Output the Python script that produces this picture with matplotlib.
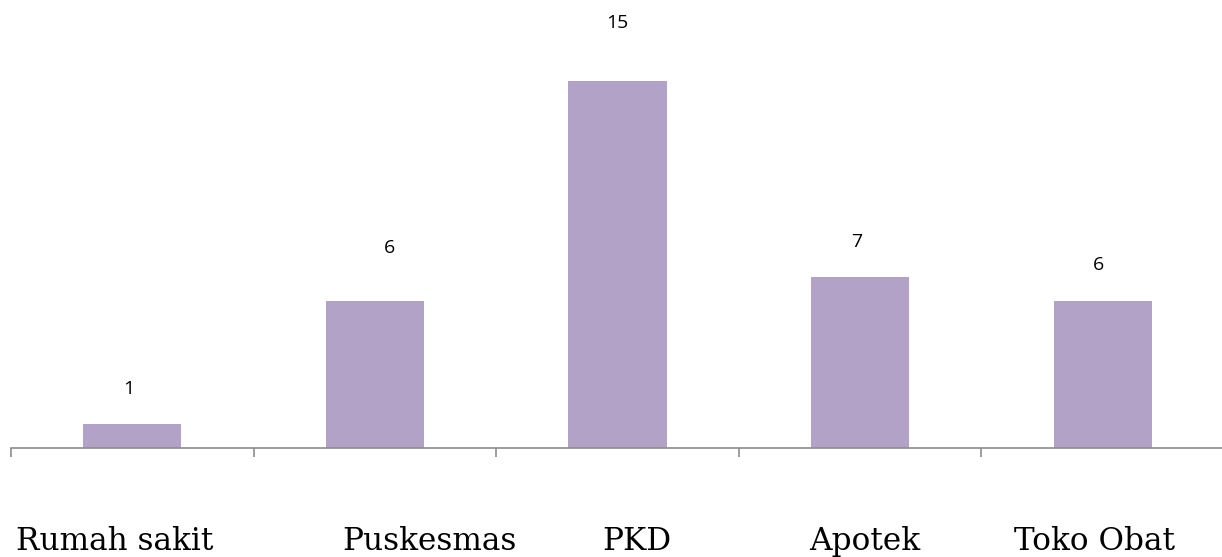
import matplotlib
matplotlib.use('Agg')
from matplotlib import pyplot as plt

categories = ['Rumah sakit', 'Puskesmas', 'PKD', 'Apotek', 'Toko Obat']
values = [1, 6, 15, 7, 6]
# data labels were moved by hand in the original, so keep their offsets (pixels)
label_dx = [-4, 15, 0, -3, -4]
label_dy = [35, 53, 58, 35, 36]
# the category names are not centred under the bars either
cat_dx = [-18, 55, 19, 5, -8]

fig = plt.figure(figsize=(12.22, 5.57), dpi=100)
ax = fig.add_axes([11 / 1222, 109 / 557, 1213 / 1222, 448 / 557])

x = list(range(len(categories)))
ax.bar(x, values, width=0.405, color='#B3A2C7')

ax.set_xlim(-0.5, len(categories) - 0.5)
ax.set_ylim(0, 18.3)

for s in ['top', 'right', 'left']:
    ax.spines[s].set_visible(False)
ax.spines['bottom'].set_color('#8C8C8C')
ax.spines['bottom'].set_linewidth(1.2)
ax.set_yticks([])

# ticks sit between categories
ax.set_xticks([i - 0.5 for i in range(len(categories) + 1)])
ax.set_xticklabels([])
ax.tick_params(axis='x', direction='out', length=6.5, width=1.2, color='#8C8C8C')

# value labels
for i, v in enumerate(values):
    ax.annotate(str(v), xy=(i, v), xytext=(label_dx[i], label_dy[i]),
                textcoords='offset pixels', ha='center', va='center',
                fontsize=14, family='Open Sans', color='black')

# category labels, far below the axis
for i, c in enumerate(categories):
    ax.annotate(c, xy=(i, 0), xytext=(cat_dx[i], -102),
                textcoords='offset pixels', ha='center', va='baseline',
                fontsize=22.4, family='DejaVu Serif', color='black',
                annotation_clip=False)

plt.savefig('out.png', dpi=100)
